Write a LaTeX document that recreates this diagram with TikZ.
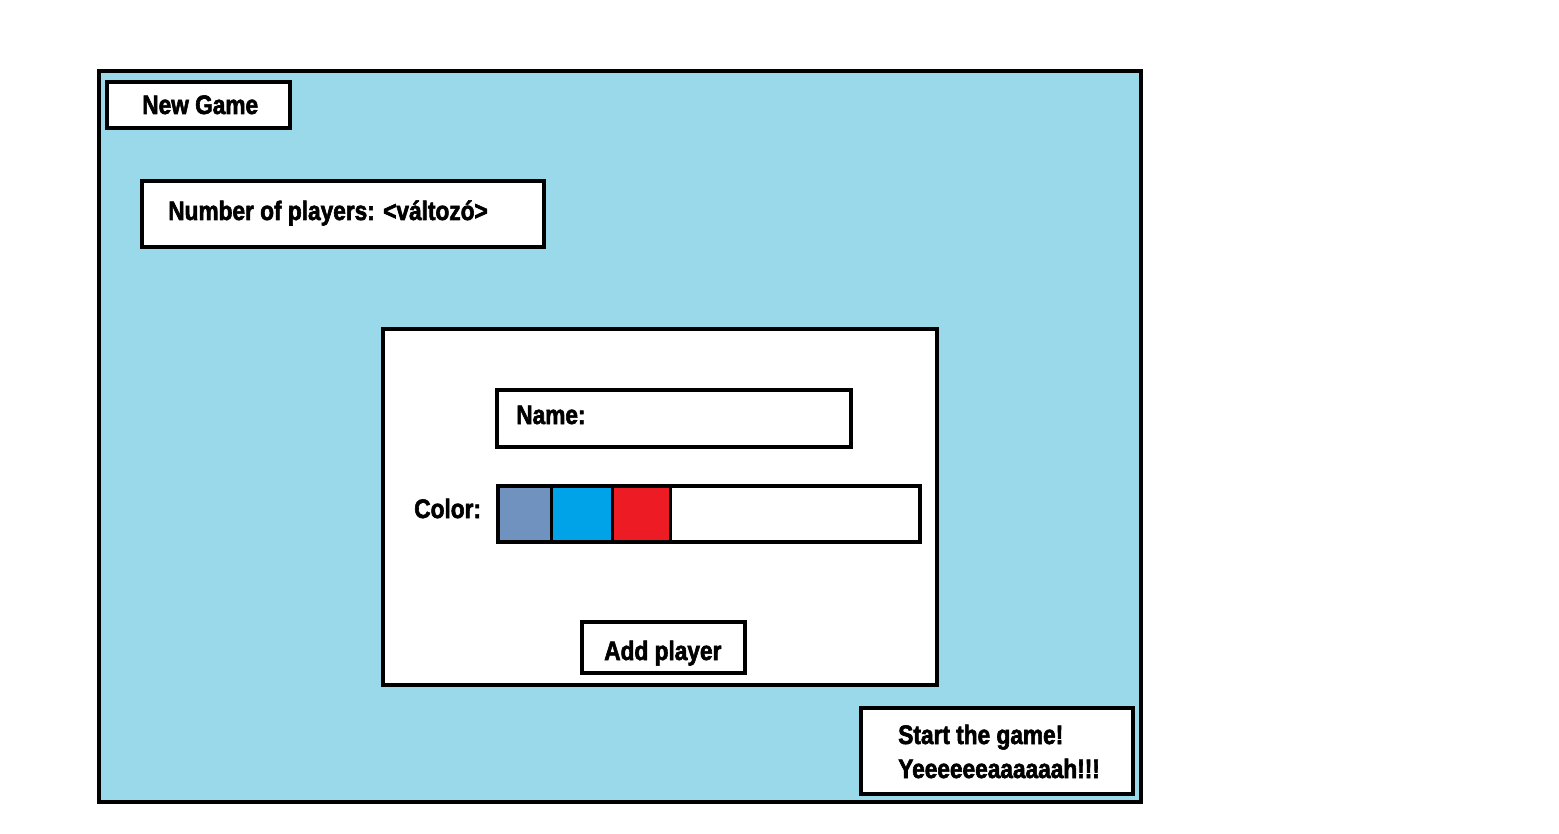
\documentclass[tikz,border=0pt]{standalone}
\usepackage{fontspec}
\newfontfamily\uifont{Liberation Sans}[FakeStretch=0.85,BoldFeatures={FakeBold=2.2}]
\definecolor{panelblue}{RGB}{153,217,234}
\definecolor{slateblue}{RGB}{112,146,190}
\definecolor{swatchcyan}{RGB}{0,162,232}
\definecolor{swatchred}{RGB}{237,28,36}
\tikzset{
  box/.style={draw=black, line width=3pt, fill=white, inner sep=0pt, outer sep=0pt, anchor=north west},
  cell/.style={draw=black, line width=2.25pt, inner sep=0pt, outer sep=0pt, anchor=north west},
  label/.style={font=\uifont\bfseries\fontsize{20}{24}\selectfont, text=black, inner sep=0pt, anchor=base west}
}
\begin{document}
\begin{tikzpicture}[x=0.75pt,y=-0.75pt]
\useasboundingbox (0,0) rectangle (1559,834);
\fill[white] (0,0) rectangle (1559,834);
% main frame
\node[box, fill=panelblue, minimum width=1042*0.75pt, minimum height=731*0.75pt] (frame) at (99,71) {};
\node[box, minimum width=183*0.75pt, minimum height=46*0.75pt] (newgame) at (107,82) {};
\node[label] (newgametxt) at (142,114) {New Game};
\node[box, minimum width=402*0.75pt, minimum height=66*0.75pt] (number) at (142,181) {};
\node[label] (numbertxt) at (168,220) {Number of players: <változó>};
% panel
\node[box, minimum width=554*0.75pt, minimum height=356*0.75pt] (panel) at (383,329) {};
\node[box, minimum width=354*0.75pt, minimum height=57*0.75pt] (name) at (497,390) {};
\node[label] (nametxt) at (516,424) {Name:};
\node[label] (colortxt) at (414,518) {Color:};
\node[box, minimum width=422*0.75pt, minimum height=56*0.75pt] (bar) at (498,486) {};
\node[cell, fill=slateblue, minimum width=53*0.75pt, minimum height=56*0.75pt] (c1) at (498,486) {};
\node[cell, fill=swatchcyan, minimum width=61*0.75pt, minimum height=56*0.75pt] (c2) at (551,486) {};
\node[cell, fill=swatchred, minimum width=58*0.75pt, minimum height=56*0.75pt] (c3) at (612,486) {};
\draw[line width=3pt] (bar.north west) rectangle (bar.south east);
\node[box, minimum width=163*0.75pt, minimum height=51*0.75pt] (add) at (582,622) {};
\node[label] (addtxt) at (604,660) {Add player};
% start
\node[box, minimum width=272*0.75pt, minimum height=86*0.75pt] (start) at (861,708) {};
\node[label] (starttxt1) at (898,744) {Start the game!};
\node[label] (starttxt2) at (898,778) {Yeeeeeeaaaaaah!!!};
\end{tikzpicture}
\end{document}
